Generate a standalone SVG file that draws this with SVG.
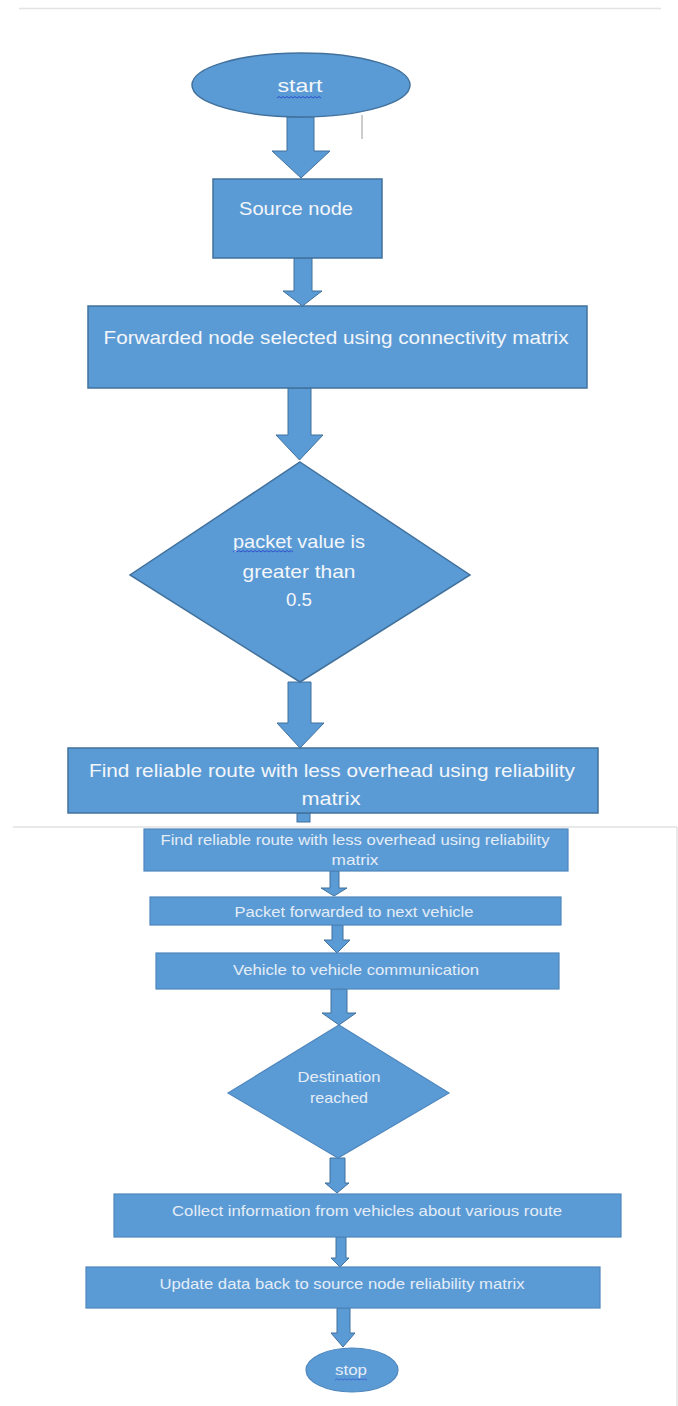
<svg xmlns="http://www.w3.org/2000/svg" width="678" height="1406" viewBox="0 0 678 1406">
<style>
.shape{fill:#5B9BD5;stroke:#41719C;stroke-width:1.5}
.shape2{fill:#5B9BD5;stroke:#4F87BD;stroke-width:1.2}
.arrow{fill:#5B9BD5;stroke:#41719C;stroke-width:1}
.t{font-family:"Liberation Sans",Arial,sans-serif;font-size:19px;fill:#F3F6FA;text-anchor:middle}
.t2{font-family:"Liberation Sans",Arial,sans-serif;font-size:15px;fill:#E4EDF7;text-anchor:middle}
.sq{fill:none;stroke:#2F4FCF;stroke-width:1}
.rule{stroke:#E2E2E2;stroke-width:1.5;fill:none}
</style>
<rect width="678" height="1406" fill="#FFFFFF"/>
<g id="frame">
<line class="rule" x1="19" y1="8.5" x2="661" y2="8.5"/>
<line class="rule" x1="13" y1="827" x2="677" y2="827"/>
<line class="rule" x1="677" y1="827" x2="677" y2="1406"/>
<line x1="362" y1="115" x2="362" y2="139" stroke="#9A9A9A" stroke-width="1"/>
</g>
<g id="connectors">
<polygon class="arrow" points="287,117 314,117 314,151 330,151 301,178 272,151 287,151"/>
<polygon class="arrow" points="294,258 312,258 312,291 322,291 302.5,306 283,291 294,291"/>
<polygon class="arrow" points="288,388 311,388 311,435 323,435 299.5,460 276,435 288,435"/>
<polygon class="arrow" points="288,682 311,682 311,723 324,723 300,748 277,723 288,723"/>
<rect class="arrow" x="297" y="813" width="13" height="9"/>
<polygon class="arrow" points="330,871 339,871 339,888 347,888 334,896 321,888 330,888"/>
<polygon class="arrow" points="332,925 343,925 343,940 350,940 337,953 324,940 332,940"/>
<polygon class="arrow" points="331,989 347,989 347,1013 356,1013 339,1025 322,1013 331,1013"/>
<polygon class="arrow" points="330,1158 345,1158 345,1183 349,1183 337,1193 325,1183 330,1183"/>
<polygon class="arrow" points="336,1237 346,1237 346,1258 349,1258 340,1267 331,1258 336,1258"/>
<polygon class="arrow" points="337,1308 350,1308 350,1333 355,1333 343,1347 331,1333 337,1333"/>
</g>
<g id="n-start">
<ellipse class="shape" cx="301" cy="85" rx="109" ry="32"/>
<text class="t" x="300" y="92" textLength="45" lengthAdjust="spacingAndGlyphs">start</text>
<polyline class="sq" points="277,98 279,96.5 281,98 283,96.5 285,98 287,96.5 289,98 291,96.5 293,98 295,96.5 297,98 299,96.5 301,98 303,96.5 305,98 307,96.5 309,98 311,96.5 313,98 315,96.5 317,98 319,96.5 321,98"/>
</g>
<g id="n-source">
<rect class="shape" x="213" y="179" width="169" height="79"/>
<text class="t" x="296" y="215" textLength="114" lengthAdjust="spacingAndGlyphs">Source node</text>
</g>
<g id="n-forwarded">
<rect class="shape" x="88" y="306" width="499" height="82"/>
<text class="t" x="336" y="344" textLength="465" lengthAdjust="spacingAndGlyphs">Forwarded node selected using connectivity matrix</text>
</g>
<g id="n-packet-decision">
<polygon class="shape" points="300,462 470,575 300,682 130,575"/>
<text class="t" x="299" y="548" textLength="132" lengthAdjust="spacingAndGlyphs">packet value is</text>
<text class="t" x="299" y="578" textLength="113" lengthAdjust="spacingAndGlyphs">greater than</text>
<text class="t" x="299" y="606" textLength="26" lengthAdjust="spacingAndGlyphs">0.5</text>
<polyline class="sq" points="233,552 235,550.5 237,552 239,550.5 241,552 243,550.5 245,552 247,550.5 249,552 251,550.5 253,552 255,550.5 257,552 259,550.5 261,552 263,550.5 265,552 267,550.5 269,552 271,550.5 273,552 275,550.5 277,552 279,550.5 281,552 283,550.5 285,552 287,550.5 289,552 291,550.5 293,552"/>
</g>
<g id="n-find1">
<rect class="shape" x="68" y="748" width="530" height="65"/>
<text class="t" x="332" y="777" textLength="486" lengthAdjust="spacingAndGlyphs">Find reliable route with less overhead using reliability</text>
<text class="t" x="331" y="805" textLength="59" lengthAdjust="spacingAndGlyphs">matrix</text>
</g>
<g id="n-find2">
<rect class="shape2" x="144" y="829" width="424" height="42"/>
<text class="t2" x="355" y="845" textLength="389" lengthAdjust="spacingAndGlyphs">Find reliable route with less overhead using reliability</text>
<text class="t2" x="355" y="865" textLength="47" lengthAdjust="spacingAndGlyphs">matrix</text>
</g>
<g id="n-packet-forwarded">
<rect class="shape2" x="150" y="897" width="411" height="28"/>
<text class="t2" x="354" y="917" textLength="239" lengthAdjust="spacingAndGlyphs">Packet forwarded to next vehicle</text>
</g>
<g id="n-v2v">
<rect class="shape2" x="156" y="953" width="403" height="36"/>
<text class="t2" x="356" y="975" textLength="246" lengthAdjust="spacingAndGlyphs">Vehicle to vehicle communication</text>
</g>
<g id="n-destination">
<polygon class="shape2" points="339,1025 449,1093 338,1158 228,1093"/>
<text class="t2" x="339" y="1082" textLength="83" lengthAdjust="spacingAndGlyphs">Destination</text>
<text class="t2" x="339" y="1103" textLength="58" lengthAdjust="spacingAndGlyphs">reached</text>
</g>
<g id="n-collect">
<rect class="shape2" x="114" y="1194" width="507" height="43"/>
<text class="t2" x="367" y="1216" textLength="390" lengthAdjust="spacingAndGlyphs">Collect information from vehicles about various route</text>
</g>
<g id="n-update">
<rect class="shape2" x="86" y="1267" width="514" height="41"/>
<text class="t2" x="342" y="1289" textLength="365" lengthAdjust="spacingAndGlyphs">Update data back to source node reliability matrix</text>
</g>
<g id="n-stop">
<ellipse class="shape2" cx="352" cy="1370" rx="46" ry="22"/>
<text class="t2" x="351" y="1375" textLength="32" lengthAdjust="spacingAndGlyphs">stop</text>
<polyline class="sq" stroke-opacity="0.6" points="335,1380 337,1378.8 339,1380 341,1378.8 343,1380 345,1378.8 347,1380 349,1378.8 351,1380 353,1378.8 355,1380 357,1378.8 359,1380 361,1378.8 363,1380 365,1378.8 367,1380"/>
</g>
</svg>
